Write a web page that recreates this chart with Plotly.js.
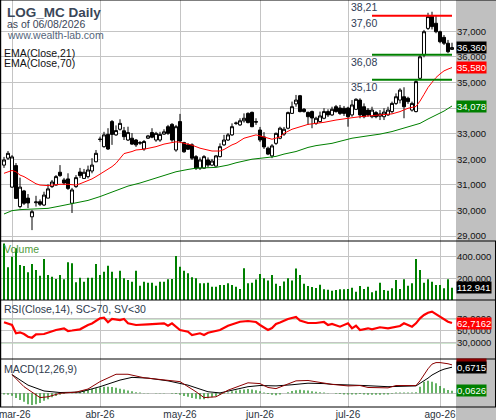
<!DOCTYPE html>
<html><head><meta charset="utf-8">
<script src="https://cdn.plot.ly/plotly-3.0.1.min.js"></script>
<style>html,body{margin:0;padding:0;background:#fff}#chart{width:496px;height:420px}</style>
</head><body><div id="chart"></div>
<script>
const dates = [
"2026-02-26","2026-02-27",
"2026-03-02","2026-03-03","2026-03-04","2026-03-05","2026-03-06",
"2026-03-09","2026-03-10","2026-03-11","2026-03-12","2026-03-13",
"2026-03-16","2026-03-17","2026-03-18","2026-03-19","2026-03-20",
"2026-03-23","2026-03-24","2026-03-25","2026-03-26","2026-03-27",
"2026-03-30","2026-03-31",
"2026-04-01","2026-04-02",
"2026-04-07","2026-04-08","2026-04-09","2026-04-10",
"2026-04-13","2026-04-14","2026-04-15","2026-04-16","2026-04-17",
"2026-04-20","2026-04-21","2026-04-22","2026-04-23","2026-04-24",
"2026-04-27","2026-04-28","2026-04-29","2026-04-30",
"2026-05-04","2026-05-05","2026-05-06","2026-05-07","2026-05-08",
"2026-05-11","2026-05-12","2026-05-13","2026-05-14","2026-05-15",
"2026-05-18","2026-05-19","2026-05-20","2026-05-21","2026-05-22",
"2026-05-25","2026-05-26","2026-05-27","2026-05-28","2026-05-29",
"2026-06-01","2026-06-02","2026-06-03","2026-06-04","2026-06-05",
"2026-06-08","2026-06-09","2026-06-10","2026-06-11","2026-06-12",
"2026-06-15","2026-06-16","2026-06-17","2026-06-18","2026-06-19",
"2026-06-22","2026-06-23","2026-06-24","2026-06-25","2026-06-26",
"2026-06-29","2026-06-30",
"2026-07-01","2026-07-02","2026-07-03",
"2026-07-06","2026-07-07","2026-07-08","2026-07-09","2026-07-10",
"2026-07-13","2026-07-14","2026-07-15","2026-07-16","2026-07-17",
"2026-07-20","2026-07-21","2026-07-22","2026-07-23","2026-07-24",
"2026-07-27","2026-07-28","2026-07-29","2026-07-30","2026-07-31",
"2026-08-03","2026-08-04","2026-08-05","2026-08-06"];

const monthTicks = ["2026-03-02","2026-04-01","2026-05-04","2026-06-01","2026-07-01","2026-08-03"];
const monthLabels = ["\u00a0\u00a0mar-26","abr-26","may-26","jun-26","jul-26","ago-26"];

const open = [31.77,32.04,30.91,31.75,30.15,30.76,30.48,29.75,30.30,30.34,
30.21,30.48,30.93,30.99,31.49,31.19,31.23,30.28,30.93,31.50,
31.25,31.32,31.54,31.90,32.77,32.49,32.97,33.47,32.95,33.17,
33.11,32.75,32.82,32.75,32.65,32.40,32.82,33.04,32.75,32.75,
32.98,33.27,33.36,32.36,33.47,32.65,32.56,32.56,32.10,31.65,
31.65,31.97,31.77,31.73,32.10,32.56,32.75,32.95,33.40,33.34,
33.50,33.79,33.83,33.47,33.14,32.87,32.43,32.13,32.62,32.82,
32.98,33.21,33.79,34.16,34.48,33.95,33.83,33.86,33.40,33.47,
33.60,33.86,33.73,34.05,34.00,33.99,34.00,33.73,33.95,34.31,
34.05,33.92,33.66,33.82,33.68,33.66,33.73,33.86,34.18,34.31,
34.44,34.38,33.92,33.86,35.16,36.07,37.11,37.59,37.31,36.98,
36.76,36.53,36.29];
const high = [32.09,32.32,32.16,31.85,31.28,30.80,30.64,30.02,30.57,30.43,
30.73,31.02,31.19,31.38,31.77,31.27,31.45,30.88,31.38,31.66,
31.62,31.75,32.04,32.36,32.88,33.07,33.21,33.53,33.32,33.56,
33.26,33.27,33.02,32.79,32.71,32.75,32.95,33.21,33.07,33.07,
33.17,33.34,33.41,33.34,33.77,32.68,32.63,32.62,32.16,32.07,
32.16,32.07,32.01,32.16,32.62,32.95,33.02,33.40,33.47,33.60,
33.79,33.83,33.86,33.60,33.26,33.06,32.49,32.59,33.04,33.27,
33.26,33.86,34.25,34.51,34.51,34.00,33.86,33.90,33.66,33.86,
33.99,33.95,34.05,34.12,34.12,34.08,34.05,34.31,34.38,34.38,
34.18,34.00,34.05,33.88,33.92,33.99,34.05,34.25,34.57,34.77,
34.81,34.44,34.25,35.09,36.07,37.05,37.72,37.76,37.63,37.02,
36.85,36.66,36.55];
const low = [31.66,31.97,30.88,30.45,30.08,30.21,30.09,29.23,30.15,30.17,
30.17,30.47,30.88,30.97,31.31,30.99,30.80,29.90,30.88,31.27,
31.23,31.25,31.45,31.88,32.68,32.45,32.36,32.56,32.91,33.12,
32.75,32.71,32.56,32.48,32.56,32.33,32.79,32.82,32.68,32.68,
32.95,32.95,32.68,32.29,32.67,32.25,32.36,31.97,31.58,31.58,
31.62,31.68,31.73,31.71,32.07,32.52,32.71,32.91,33.34,33.30,
33.43,33.40,33.25,33.34,32.67,32.40,32.16,32.04,32.56,32.78,
32.91,33.17,33.77,34.05,33.83,33.82,33.34,33.21,33.34,33.43,
33.56,33.65,33.69,33.82,33.73,33.69,33.27,33.66,33.92,33.60,
33.60,33.66,33.60,33.60,33.53,33.53,33.69,33.79,34.12,34.18,
33.60,34.16,33.86,33.83,35.09,35.98,37.05,37.07,36.92,36.53,
36.46,36.14,36.27];
const close = [31.97,32.23,32.09,30.47,30.91,30.28,30.29,29.95,30.33,30.24,
30.60,30.84,31.11,31.32,31.36,31.07,30.86,30.80,31.28,31.36,
31.49,31.58,31.77,32.23,32.78,32.95,32.40,32.97,33.12,33.40,
32.88,33.04,32.59,32.56,32.63,32.69,32.91,32.86,33.01,32.97,
33.07,33.01,32.75,33.27,32.71,32.29,32.39,32.04,31.65,31.97,
32.10,31.77,31.93,32.13,32.49,32.75,32.95,33.27,33.41,33.50,
33.60,33.43,33.27,33.45,32.75,32.48,32.20,32.52,33.01,33.21,
33.17,33.82,34.05,34.31,33.86,33.86,33.66,33.61,33.60,33.69,
33.86,33.73,33.95,33.86,33.79,33.79,33.66,34.12,34.34,33.73,
33.66,33.73,33.92,33.66,33.77,33.84,33.92,34.18,34.44,34.70,
34.05,34.25,34.18,35.03,36.00,36.98,37.57,37.18,36.98,36.59,
36.53,36.20,36.36];

const volume = [520000,301000,399000,476000,323000,313000,255000,332000,277000,224000,
378000,230000,215000,194000,230000,191000,347000,338000,163000,206000,
169000,206000,206000,332000,230000,261000,316000,261000,200000,270000,
200000,184000,169000,270000,132000,169000,160000,160000,132000,169000,
169000,191000,194000,405000,307000,270000,246000,209000,200000,154000,
154000,160000,123000,123000,138000,138000,154000,138000,123000,101000,
292000,154000,160000,190000,240000,200000,180000,230000,150000,130000,
170000,200000,180000,290000,230000,150000,130000,120000,110000,140000,
100000,95000,86000,92000,99000,99000,101000,113000,77000,129000,
101000,123000,71000,86000,160000,92000,86000,108000,184000,101000,
191000,132000,154000,378000,277000,160000,191000,169000,138000,138000,
108000,191000,112941];

const ema21Bars = [0,2,3,4,5,6,7,8,9,10,11,12,14,16,18,19,20,21,22,23,24,25,26,27,28,29,30,32,33,35,38,40,43,44,46,47,49,52,54,55,57,58,60,63,64,66,67,69,70,72,74,76,80,83,87,89,94,97,99,101,103,104,105,106,107,108,109,110,111,112];
const ema21Vals = [31.45,31.56,31.51,31.38,31.32,31.23,31.12,31.04,30.99,30.97,30.97,30.99,31.02,31.02,30.99,31.04,31.10,31.16,31.23,31.32,31.42,31.51,31.59,31.71,31.84,32.05,32.22,32.30,32.36,32.39,32.49,32.59,32.68,32.66,32.59,32.55,32.43,32.32,32.32,32.38,32.56,32.62,32.82,32.95,32.91,32.82,32.78,32.87,33.01,33.17,33.27,33.36,33.44,33.53,33.62,33.66,33.73,33.77,33.86,33.99,34.06,34.27,34.53,34.80,35.00,35.19,35.33,35.45,35.52,35.58];
const ema70Bars = [0,2,4,7,11,14,17,21,24,27,29,31,34,36,39,41,43,46,48,53,56,58,62,66,68,70,73,76,78,82,85,87,90,94,97,99,101,104,106,108,110,112];
const ema70Vals = [29.86,29.99,30.03,30.06,30.08,30.17,30.27,30.39,30.54,30.72,30.84,30.95,31.07,31.17,31.32,31.42,31.51,31.60,31.65,31.68,31.77,31.86,32.00,32.07,32.11,32.20,32.30,32.46,32.53,32.62,32.73,32.82,32.89,32.98,33.08,33.17,33.26,33.40,33.57,33.73,33.88,34.078];

const levelValues = [37.60, 36.08, 35.10];
const levelLabels = [38.21, 37.60, 36.08, 35.10];
const levelFrom = "2026-07-09", levelTo = "2026-08-06";

const rsiBars = [0,2,3,4,5,6,7,8,10,12,13,15,16,17,19,21,22,24,25,26,27,29,30,31,33,36,39,40,41,42,44,46,47,49,50,51,54,56,59,61,62,63,64,65,66,67,68,69,71,73,74,76,78,80,81,82,84,86,87,88,89,91,92,94,96,99,100,101,102,103,104,105,106,107,108,109,110,111,112];
const rsiVals = [64.0,59.5,45.7,47.3,44.5,40.0,38.3,44.0,44.5,49.5,51.2,54.0,49.5,50.3,52.3,59.5,62.0,70.7,71.7,64.0,69.5,67.8,69.5,62.3,59.5,60.7,61.2,62.3,58.3,62.3,51.2,48.3,42.8,45.7,42.8,46.7,51.2,58.3,65.0,66.2,65.3,64.5,59.5,55.3,51.2,54.5,61.2,63.7,69.5,72.8,67.0,62.8,62.8,64.5,59.5,61.2,56.7,62.3,54.0,58.3,51.2,54.0,52.3,55.7,54.0,57.8,62.3,59.5,56.7,62.3,70.7,76.2,80.0,81.7,77.8,73.3,69.0,65.0,62.7162];
const rsiBands = [30, 70];

const macdBars = [2,5,9,11,14,18,21,24,28,31,35,40,44,48,50,53,56,61,64,66,68,70,73,76,80,82,86,89,91,96,98,103,104,105,106,107,108,109,110,111,112];
const macdVals = [0.48,0.17,-0.11,-0.09,0.00,0.03,0.11,0.30,0.49,0.49,0.40,0.34,0.30,0.04,-0.11,-0.09,0.08,0.27,0.25,0.15,0.12,0.20,0.32,0.33,0.27,0.23,0.19,0.20,0.15,0.14,0.20,0.20,0.32,0.48,0.63,0.75,0.79,0.79,0.78,0.76,0.7314];
const signalBars = [2,6,10,14,19,24,29,32,36,41,46,51,54,58,61,64,68,72,76,80,82,90,96,103,104,105,106,107,108,109,110,111,112];
const signalVals = [0.48,0.21,0.06,0.02,0.03,0.17,0.34,0.41,0.39,0.32,0.21,0.04,0.01,0.11,0.17,0.20,0.19,0.22,0.26,0.25,0.23,0.20,0.17,0.19,0.25,0.32,0.39,0.47,0.53,0.58,0.62,0.65,0.6715];
const histVals = [-0.03,-0.04,-0.06,-0.12,-0.17,-0.22,-0.28,-0.30,-0.28,-0.25,
-0.19,-0.15,-0.10,-0.07,-0.04,-0.02,0.00,0.02,0.04,0.05,
0.07,0.09,0.11,0.13,0.15,0.17,0.17,0.16,0.14,0.12,
0.10,0.07,0.05,0.03,0.02,0.01,0.01,0.00,0.01,0.01,
0.01,0.00,-0.01,-0.02,-0.04,-0.07,-0.09,-0.12,-0.14,-0.15,
-0.15,-0.13,-0.10,-0.07,-0.04,-0.01,0.02,0.05,0.07,0.09,
0.10,0.11,0.10,0.08,0.05,0.02,-0.02,-0.04,-0.05,-0.03,
0.00,0.03,0.06,0.08,0.09,0.08,0.07,0.05,0.04,0.03,
0.02,0.01,0.00,-0.01,-0.02,-0.03,-0.03,-0.03,-0.03,-0.02,
-0.03,-0.04,-0.04,-0.04,-0.04,-0.03,-0.03,-0.01,0.02,0.02,
0.02,0.02,0.02,0.03,0.17,0.30,0.32,0.30,0.26,0.19,
0.13,0.085,0.0626];

const priceTicks = [29,30,31,32,33,34,35,36,37];
const volTicks = [200000, 400000];
const rsiTicks = [30, 50, 70];

// ---- helpers ----
const dec = (v, d) => v.toFixed(d).replace('.', ',');
const thou = v => String(Math.round(v)).replace(/\B(?=(\d{3})+(?!\d))/g, '.');
const at = arr => arr.map(i => dates[i]);
const last = a => a[a.length - 1];

const W = 456, H = 407;
const P = x => x / W, Q = y => 1 - y / H;
const FONT = 'Liberation Sans, Arial, sans-serif';
const GRID = '#c4c4c4';

const traces = [
  {type:'candlestick', x:dates, open:open, high:high, low:low, close:close,
   xaxis:'x', yaxis:'y', whiskerwidth:0,
   increasing:{line:{color:'#000', width:1}, fillcolor:'#ffffff'},
   decreasing:{line:{color:'#000', width:1}, fillcolor:'#000000'},
   hoverinfo:'skip'},
  {type:'scatter', mode:'lines', x:at(ema21Bars), y:ema21Vals, yaxis:'y',
   line:{color:'#ff0000', width:1}},
  {type:'scatter', mode:'lines', x:at(ema70Bars), y:ema70Vals, yaxis:'y',
   line:{color:'#008000', width:1}},
  {type:'bar', x:dates, y:volume, yaxis:'y2', width:0.5,
   marker:{color:'#008000', line:{width:0}}},
  {type:'scatter', mode:'lines', x:at(rsiBars), y:rsiVals, yaxis:'y3',
   line:{color:'#ff0000', width:2.2}},
  {type:'bar', x:dates, y:histVals, yaxis:'y4', width:0.3,
   marker:{color:'#008000', line:{width:0}}},
  {type:'scatter', mode:'lines', x:at(signalBars), y:signalVals, yaxis:'y4',
   line:{color:'#000000', width:1}},
  {type:'scatter', mode:'lines', x:at(macdBars), y:macdVals, yaxis:'y4',
   line:{color:'#8b0000', width:1}}
];
const levelColors = ['#ff0000', '#008000', '#008000'];
levelValues.forEach((v, k) => traces.push({
  type:'scatter', mode:'lines', x:[levelFrom, levelTo], y:[v, v], yaxis:'y',
  line:{color:levelColors[k], width:2}}));

const yCommon = {side:'right', anchor:'x', showline:false, zeroline:false, ticks:'',
  gridcolor:GRID, gridwidth:1, tickfont:{size:9.5, color:'#111', family:FONT}, fixedrange:true};

const layout = {
  width:496, height:420,
  margin:{l:0, r:40, t:0, b:13, pad:0},
  paper_bgcolor:'#ffffff', plot_bgcolor:'#ffffff',
  showlegend:false, hovermode:false, dragmode:false,
  font:{family:FONT, size:10, color:'#222'},
  boxgap:0.15, boxgroupgap:0.1, barmode:'overlay',
  xaxis:{type:'category', anchor:'y4', range:[-1, dates.length],
    tickmode:'array', tickvals:monthTicks, ticktext:monthLabels,
    showgrid:true, gridcolor:GRID, gridwidth:1, ticks:'', showline:false, zeroline:false,
    rangeslider:{visible:false}, tickfont:{size:10, color:'#2b3340', family:FONT}},
  yaxis:Object.assign({}, yCommon, {domain:[166/H, 1], range:[28.805, 38.219],
    tickmode:'array', tickvals:priceTicks, ticktext:priceTicks.map(v => dec(v, 3))}),
  yaxis2:Object.assign({}, yCommon, {domain:[107/H, 166/H], range:[0, 543800],
    tickmode:'array', tickvals:volTicks, ticktext:volTicks.map(thou)}),
  yaxis3:Object.assign({}, yCommon, {domain:[48/H, 107/H], range:[2.8, 101.2],
    tickmode:'array', tickvals:rsiTicks, ticktext:rsiTicks.map(v => dec(v, 4))}),
  yaxis4:Object.assign({}, yCommon, {domain:[0, 48/H], range:[-0.352, 0.882],
    tickmode:'array', tickvals:[0], ticktext:[''], showticklabels:false}),
  shapes:[],
  annotations:[]
};

// right-hand grey scale area
layout.shapes.push({type:'rect', xref:'paper', yref:'paper', x0:1, x1:1.1, y0:-0.05, y1:1,
  fillcolor:'#c0c0c0', line:{width:0}, layer:'below'});
// RSI bands
rsiBands.forEach(b => layout.shapes.push({type:'line', xref:'paper', yref:'y3', x0:0, x1:1,
  y0:b, y1:b, line:{color:'#008000', width:1}, layer:'between'}));
// panel borders
[1, 166/H, 107/H, 48/H, 0].forEach(y => layout.shapes.push({type:'line', xref:'paper', yref:'paper',
  x0:0, x1:1.09, y0:y, y1:y, line:{color:'#000', width:1}, layer:'above'}));
layout.shapes.push({type:'line', xref:'paper', yref:'paper', x0:0.001, x1:0.001, y0:0, y1:1,
  line:{color:'#000', width:1.5}, layer:'above'});
layout.shapes.push({type:'line', xref:'paper', yref:'paper', x0:1.0866, x1:1.0866, y0:0, y1:166/H,
  line:{color:'#000', width:1}, layer:'above'});

const txt = (x, y, text, size, color) => ({xref:'paper', yref:'paper', x:P(x), y:Q(y),
  xanchor:'left', yanchor:'middle', text:text, showarrow:false, borderpad:0,
  font:{size:size, color:color, family:FONT}});
layout.annotations.push(txt(6, 12, '<b>LOG_MC Daily</b>', 13.5, '#3a4658'));
layout.annotations.push(txt(6, 24, 'as of 06/08/2026', 10.5, '#3a4658'));
layout.annotations.push(txt(6, 35, 'www.wealth-lab.com', 10.5, '#55657a'));
layout.annotations.push(txt(3, 53, 'EMA(Close,21)', 10.5, '#111'));
layout.annotations.push(txt(3, 63, 'EMA(Close,70)', 10.5, '#111'));
layout.annotations.push(txt(3, 249, 'Volume', 10.5, '#4f9a3a'));
layout.annotations.push(txt(3, 309, 'RSI(Close,14), SC&gt;70, SV&lt;30', 10.5, '#2e3b4e'));
layout.annotations.push(txt(3, 369, 'MACD(12,26,9)', 10.5, '#2e3b4e'));

levelLabels.forEach(v => layout.annotations.push({xref:'x', yref:'y', x:86.6, y:v,
  xanchor:'left', yanchor:'top', text:dec(v, 2), showarrow:false, borderpad:0,
  font:{size:10.5, color:'#2e3b55', family:FONT}}));

const badge = (yref, y, text, bg) => ({xref:'paper', yref:yref, x:1, y:y, xanchor:'left',
  yanchor:'middle', text:text, showarrow:false, bgcolor:bg, borderpad:0,
  font:{size:9.5, color:'#ffffff', family:FONT}});
layout.annotations.push(badge('y', last(close), dec(last(close), 3), '#000000'));
layout.annotations.push(badge('y', last(ema21Vals), dec(last(ema21Vals), 3), '#ff0000'));
layout.annotations.push(badge('y', last(ema70Vals), dec(last(ema70Vals), 3), '#008000'));
layout.annotations.push(badge('y2', last(volume), thou(last(volume)), '#000000'));
layout.annotations.push(badge('y3', last(rsiVals), dec(last(rsiVals), 4), '#ff0000'));
layout.annotations.push(badge('y4', last(macdVals), dec(last(macdVals), 4), '#8b0000'));
layout.annotations.push(badge('y4', last(signalVals), dec(last(signalVals), 4), '#000000'));
layout.annotations.push(badge('y4', last(histVals), dec(last(histVals), 4), '#008000'));

Plotly.newPlot('chart', traces, layout, {staticPlot:true, displayModeBar:false});
</script>
</body></html>
